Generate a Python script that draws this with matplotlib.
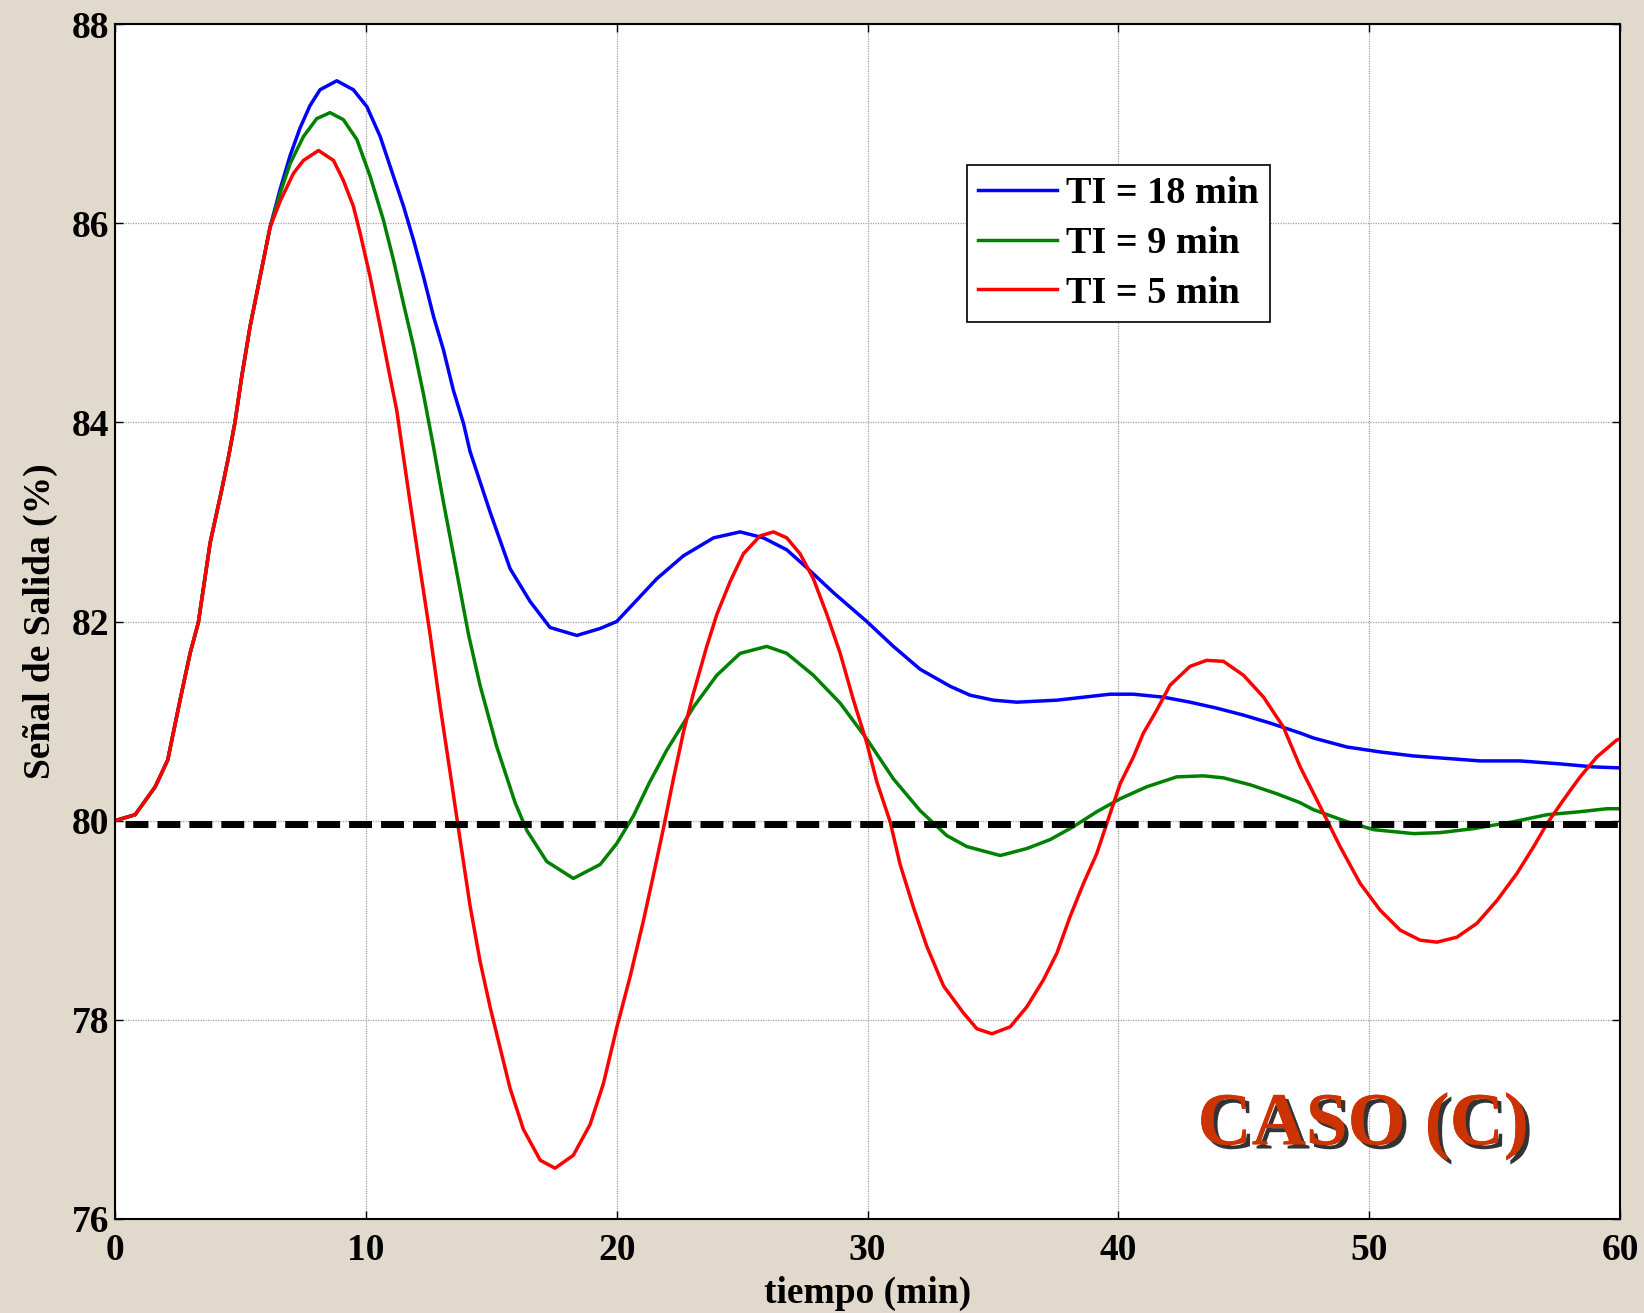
import matplotlib
matplotlib.use("Agg")
import matplotlib.pyplot as plt
import matplotlib.patheffects as pe

plt.rcParams['font.family'] = ['Liberation Serif', 'DejaVu Serif']
plt.rcParams['font.weight'] = 'bold'

# shared rising part (the three responses coincide here)
t_rise = [0, 0.8, 1.6, 2.1, 2.59, 2.99, 3.32, 3.79, 4.25, 4.52, 4.78, 5.05, 5.38, 5.78, 6.18]
y_rise = [80.0, 80.06, 80.34, 80.61, 81.21, 81.68, 81.99, 82.79, 83.32, 83.65, 84.0, 84.46,
          84.96, 85.46, 85.96]

# TI = 18 min
t_blue = [6.58, 6.98, 7.38, 7.77, 8.17, 8.84, 9.5, 10.04, 10.57, 11.1, 11.5, 11.9, 12.3, 12.7,
          13.09, 13.49, 13.89, 14.15, 14.95, 15.75, 16.55, 17.34, 18.41, 19.34, 20.0, 20.67,
          21.6, 22.66, 23.86, 24.92, 25.85, 26.78, 27.58, 28.64, 29.97, 31.03, 32.1, 33.29,
          34.09, 35.02, 35.95, 37.55, 38.61, 39.67, 40.6, 41.8, 42.86, 43.92, 44.99, 46.05,
          47.25, 47.78, 49.11, 50.44, 51.77, 52.83, 54.43, 56.02, 57.62, 58.94, 60]
y_blue = [86.34, 86.68, 86.96, 87.18, 87.34, 87.43, 87.34, 87.17, 86.87, 86.47, 86.17, 85.83,
          85.46, 85.06, 84.73, 84.32, 83.99, 83.71, 83.10, 82.53, 82.20, 81.94, 81.86, 81.93,
          82.0, 82.18, 82.43, 82.66, 82.84, 82.90, 82.84, 82.72, 82.54, 82.29, 82.0, 81.75,
          81.52, 81.35, 81.26, 81.21, 81.19, 81.21, 81.24, 81.27, 81.27, 81.24, 81.19, 81.13,
          81.06, 80.98, 80.88, 80.83, 80.74, 80.69, 80.65, 80.63, 80.60, 80.60, 80.57, 80.54,
          80.53]

# TI = 9 min
t_green = [6.58, 6.98, 7.51, 8.04, 8.57, 9.1, 9.64, 10.17, 10.7, 11.1, 11.5, 11.9, 12.29,
           12.69, 13.09, 13.56, 14.09, 14.55, 15.22, 15.95, 16.42, 17.21, 18.27, 19.34, 20.0,
           20.67, 21.3, 22.0, 23.06, 23.99, 24.92, 25.98, 26.78, 27.84, 28.91, 29.97, 31.03,
           32.1, 33.16, 33.96, 35.29, 36.35, 37.28, 38.21, 39.14, 40.07, 41.13, 42.33, 43.39,
           44.19, 45.26, 46.32, 47.25, 47.78, 49.11, 50.17, 51.77, 52.83, 54.16, 55.76, 57.09,
           58.41, 59.48, 60]
y_green = [86.3, 86.6, 86.87, 87.05, 87.11, 87.04, 86.84, 86.47, 86.03, 85.63, 85.19,
           84.76, 84.29, 83.76, 83.20, 82.58, 81.87, 81.36, 80.74, 80.18, 79.90, 79.59,
           79.42, 79.56, 79.77, 80.05, 80.38, 80.71, 81.14, 81.46, 81.68, 81.75, 81.68,
           81.46, 81.18, 80.82, 80.42, 80.10, 79.85, 79.74, 79.65, 79.72, 79.81, 79.94,
           80.09, 80.22, 80.34, 80.44, 80.45, 80.43, 80.36, 80.27, 80.18, 80.11, 79.99,
           79.91, 79.87, 79.88, 79.92, 79.99, 80.06, 80.09, 80.12, 80.12]

# TI = 5 min
t_red = [6.58, 7.11, 7.51, 8.11, 8.71, 9.1, 9.5, 9.77, 10.17, 10.57, 10.96, 11.23, 11.5,
         11.76, 12.16, 12.56, 12.96, 13.36, 13.69, 14.15, 14.55, 14.95, 15.35, 15.75, 16.28,
         16.95, 17.54, 18.27, 18.94, 19.47, 20.0, 20.53, 21.06, 21.46, 21.86, 22.26, 22.66,
         23.06, 23.59, 23.99, 24.52, 25.05, 25.72, 26.25, 26.78, 27.31, 27.84, 28.38, 28.91,
         29.44, 29.97, 30.37, 30.9, 31.3, 31.83, 32.36, 33.03, 33.82, 34.36, 34.96, 35.69,
         36.35, 37.01, 37.55, 38.08, 38.61, 39.14, 39.67, 40.07, 40.6, 41.0, 41.53, 42.06,
         42.86, 43.52, 44.19, 44.99, 45.79, 46.58, 47.25, 48.05, 48.84, 49.64, 50.44, 51.24,
         52.03, 52.7, 53.5, 54.3, 55.1, 55.89, 56.56, 57.09, 57.75, 58.41, 59.08, 59.87, 60]
y_red = [86.22, 86.5, 86.63, 86.73, 86.63, 86.43, 86.17, 85.9, 85.46, 84.96, 84.46, 84.12,
         83.65, 83.2, 82.53, 81.87, 81.15, 80.48, 79.92, 79.15, 78.59, 78.13, 77.72, 77.31,
         76.90, 76.59, 76.51, 76.64, 76.95, 77.36, 77.92, 78.43, 78.99, 79.45, 79.92, 80.42,
         80.89, 81.28, 81.75, 82.07, 82.40, 82.68, 82.86, 82.90, 82.84, 82.68, 82.43, 82.07,
         81.68, 81.21, 80.78, 80.39, 79.99, 79.56, 79.13, 78.74, 78.34, 78.07, 77.91, 77.86,
         77.93, 78.13, 78.40, 78.67, 79.04, 79.37, 79.67, 80.07, 80.37, 80.64, 80.88, 81.11,
         81.36, 81.55, 81.61, 81.60, 81.46, 81.24, 80.94, 80.54, 80.14, 79.74, 79.37, 79.10,
         78.90, 78.80, 78.78, 78.83, 78.97, 79.20, 79.47, 79.74, 79.97, 80.21, 80.44, 80.64,
         80.81, 80.82]

setpoint = 79.97
x_ticks = [0, 10, 20, 30, 40, 50, 60]
y_ticks = [76, 78, 80, 82, 84, 86, 88]

fig = plt.figure(figsize=(16.44, 13.13), dpi=100)
fig.patch.set_facecolor('#e1d9cb')
ax = fig.add_axes([0.070, 0.0716, 0.9154, 0.9101])
ax.set_facecolor('white')

series = [(t_blue, y_blue, '#0000ff', 'TI = 18 min'),
          (t_green, y_green, '#008000', 'TI = 9 min'),
          (t_red, y_red, '#ff0000', 'TI = 5 min')]
for tt, yy, c, lab in series:
    ax.plot(t_rise + tt, y_rise + yy, color=c, lw=2.5, label=lab)

ax.plot([0.4, 60], [setpoint, setpoint], color='black', lw=5, dashes=(3.3, 1.3))

ax.set_xlim(0, 60)
ax.set_ylim(76, 88)
ax.set_xticks(x_ticks)
ax.set_yticks(y_ticks)
ax.tick_params(direction='in', length=6, width=1, top=True, right=True, labelsize=27)
ax.tick_params(axis='x', pad=10)
ax.tick_params(axis='y', pad=4)
for lbl in ax.get_xticklabels() + ax.get_yticklabels():
    lbl.set_fontweight('bold')
ax.grid(True, color='#a0a0a0', ls=(0, (1, 1)), lw=0.9)
for s in ax.spines.values():
    s.set_linewidth(1.5)

ax.set_xlabel('tiempo (min)', fontsize=27, fontweight='bold', labelpad=6)
ax.set_ylabel('Señal de Salida (%)', fontsize=27, fontweight='bold', labelpad=10)

leg = ax.legend(loc='upper left', bbox_to_anchor=(0.566, 0.882), fontsize=27.5,
                fancybox=False, edgecolor='black', framealpha=1, handlelength=2.05,
                borderpad=0.3, labelspacing=0.38, handletextpad=0.25, borderaxespad=0)
leg.get_frame().set_linewidth(1.2)
for txt in leg.get_texts():
    txt.set_fontweight('bold')

ax.text(49.75, 76.93, 'CASO (C)', fontsize=54, fontweight='bold', color='#cc3300',
        ha='center', va='center',
        path_effects=[pe.withSimplePatchShadow(offset=(3, -3), shadow_rgbFace='black',
                                               alpha=0.8), pe.Normal()])

fig.savefig('out.png', dpi=100, facecolor=fig.get_facecolor())
